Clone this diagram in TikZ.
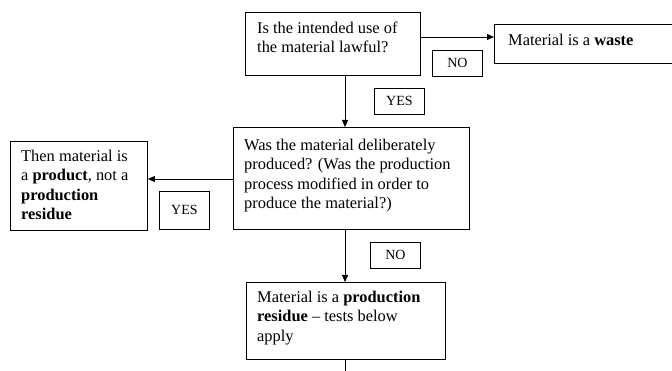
\documentclass[tikz,border=0pt]{standalone}
\usepackage{fontspec}
\setmainfont{Liberation Serif}
\usetikzlibrary{arrows.meta}
\begin{document}
\begin{tikzpicture}[x=1pt,y=-1pt,
  box/.style={draw, line width=0.9pt, inner sep=0pt, anchor=north west},
  txt/.style={anchor=north west, inner sep=0pt, align=left, font=\fontsize{16.4}{19.5}\selectfont},
  onetxt/.style={anchor=base west, inner sep=0pt, font=\fontsize{16.4}{19.5}\selectfont},
  lbl/.style={draw, line width=0.8pt, inner sep=0pt, anchor=north west, font=\fontsize{14}{16}\selectfont},
  conn/.style={line width=0.9pt},
  arr/.style={conn, -{Triangle[length=7pt,width=6pt]}}]
\useasboundingbox (0,0) rectangle (672,371);
\clip (0,0) rectangle (672,371);
\fill[white] (0,0) rectangle (672,371);

% boxes
\node[box, minimum width=175pt, minimum height=63pt] (b1) at (245,12) {};
\node[box, minimum width=190pt, minimum height=39pt] (w) at (494,24) {};
\node[box, minimum width=236pt, minimum height=102pt] (b2) at (233,127) {};
\node[box, minimum width=137pt, minimum height=89pt] (l) at (10,141) {};
\node[box, minimum width=199pt, minimum height=77pt] (b3) at (246,282) {};

% texts
\node[txt] (t1) at (257,19.4) {\strut Is the intended use of\\the material lawful?};
\node[onetxt] (tw) at (508,46) {Material is a \textbf{waste}};
\node[txt] (t2) at (244,136.4) {\strut Was the material deliberately\\produced? (Was the production\\process modified in order to\\produce the material?)};
\node[txt] (tl) at (21,147.4) {\strut Then material is\\a \textbf{product}, not a\\\textbf{production}\\\textbf{residue}};
\node[txt] (t3) at (257,288.4) {\strut Material is a \textbf{production}\\\textbf{residue} -- tests below\\apply};

% labels
\node[lbl, minimum width=50pt, minimum height=26pt] (no1) at (432,50) {NO};
\node[lbl, minimum width=50pt, minimum height=26pt] (yes1) at (374,88) {YES};
\node[lbl, minimum width=50pt, minimum height=38pt] (yes2) at (159,191) {YES};
\node[lbl, minimum width=50pt, minimum height=26pt] (no2) at (370,242) {NO};

% connectors
\coordinate (cx) at (345,0);
\coordinate (cy1) at (0,37);
\coordinate (cy2) at (0,179);
\coordinate (bot) at (345,380);
\draw[arr] (b1.east |- cy1) -- (w.west |- cy1);
\draw[arr] (b1.south -| cx) -- (b2.north -| cx);
\draw[arr] (b2.west |- cy2) -- (l.east |- cy2);
\draw[arr] (b2.south -| cx) -- (b3.north -| cx);
\draw[conn] (b3.south -| cx) -- (bot);
\end{tikzpicture}
\end{document}
